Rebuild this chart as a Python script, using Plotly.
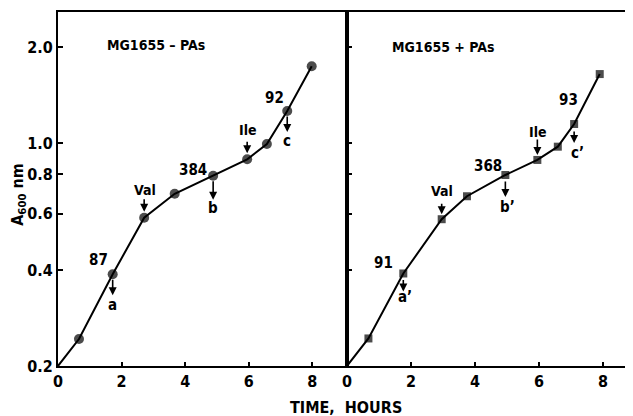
import math
import plotly.graph_objects as go

# ---- data ----
time_minus = [0, 0.66, 1.72, 2.71, 3.67, 4.88, 5.95, 6.57, 7.21, 7.98]
a600_minus = [0.2, 0.243, 0.388, 0.583, 0.693, 0.790, 0.889, 0.993, 1.26, 1.74]
time_plus = [0, 0.67, 1.76, 2.96, 3.75, 4.95, 5.95, 6.59, 7.10, 7.90]
a600_plus = [0.2, 0.244, 0.39, 0.577, 0.681, 0.794, 0.885, 0.974, 1.147, 1.645]

panel_titles = ["MG1655 \u2013 PAs", "MG1655 + PAs"]
rates_minus = ["87", "384", "92"]
rates_plus = ["91", "368", "93"]
letters_minus = ["a", "b", "c"]
letters_plus = ["a\u2019", "b\u2019", "c\u2019"]
additions = ["Val", "Ile"]
y_ticks = [0.2, 0.4, 0.6, 0.8, 1.0, 2.0]
x_ticks = [0, 2, 4, 6, 8]

FONT = "DejaVu Sans Condensed, Liberation Sans Narrow, Arial Narrow, sans-serif"

fig = go.Figure()
fig.add_trace(go.Scatter(
    x=time_minus, y=a600_minus, mode="lines+markers", xaxis="x", yaxis="y",
    line=dict(color="black", width=2),
    marker=dict(symbol="circle", color="black", line=dict(width=0),
                size=[0] + [10] * (len(time_minus) - 1)),
    showlegend=False, hoverinfo="skip"))
fig.add_trace(go.Scatter(
    x=time_plus, y=a600_plus, mode="lines+markers", xaxis="x2", yaxis="y2",
    line=dict(color="black", width=2),
    marker=dict(symbol="square", color="black", line=dict(width=0),
                size=[0] + [8] * (len(time_plus) - 1)),
    showlegend=False, hoverinfo="skip"))

ann = []


def txt(xr, yr, x, y, text, dx=0, dy=0, size=15, xanchor="center"):
    ann.append(dict(xref=xr, yref=yr, x=x, y=math.log10(y), text=text, showarrow=False,
                    xshift=dx, yshift=dy, xanchor=xanchor,
                    font=dict(size=size, family=FONT, color="black", weight="bold")))


def arrow(xr, yr, x, y, tip_shift, length, dx=0):
    ann.append(dict(xref=xr, yref=yr, x=x, y=math.log10(y), text="", showarrow=True,
                    xshift=dx, yshift=tip_shift, ax=0, ay=-length,
                    arrowhead=2, arrowsize=1, arrowwidth=1.6, arrowcolor="black", standoff=0))


def panel(xr, yr, t, a, rates, letters, rate_shift, letter_shift, arrow_below, arrow_above,
          add_shift):
    idx = [2, 5, 8]
    for k, i in enumerate(idx):
        dx, dy = rate_shift[k]
        txt(xr, yr, t[i], a[i], rates[k], dx, dy, size=15)
        tip, ln = arrow_below[k]
        arrow(xr, yr, t[i], a[i], -tip, ln)
        ldx, ldy = letter_shift[k]
        txt(xr, yr, t[i], a[i], letters[k], ldx, -ldy, size=15)
    for k, i in enumerate([3, 6]):
        arrow(xr, yr, t[i], a[i], arrow_above[k][0], arrow_above[k][1])
        txt(xr, yr, t[i], a[i], additions[k], add_shift[k][0], add_shift[k][1], size=14)


panel("x", "y", time_minus, a600_minus, rates_minus, letters_minus,
      rate_shift=[(-14, 14), (-20, 6), (-13, 13)],
      letter_shift=[(0, 31), (0, 32), (0, 30)],
      arrow_below=[(21, 17), (24, 20), (21, 17)],
      arrow_above=[(6, 14), (6, 13)],
      add_shift=[(1, 28), (1, 29)])
panel("x2", "y2", time_plus, a600_plus, rates_plus, letters_plus,
      rate_shift=[(-20, 10), (-17, 9), (-6, 24)],
      letter_shift=[(2, 24), (2, 32), (3, 29)],
      arrow_below=[(18, 13), (22, 17), (19, 13)],
      arrow_above=[(5, 12), (5, 17)],
      add_shift=[(0, 28), (1, 28)])

txt("x", "y", 1.48, 2.03, panel_titles[0], size=14, xanchor="left")
txt("x2", "y2", 1.34, 2.0, panel_titles[1], size=14, xanchor="left")

ann.append(dict(xref="paper", yref="paper", x=0.5, y=-0.116, yanchor="middle",
                xanchor="center", text="TIME,  HOURS", showarrow=False,
                font=dict(size=16, family=FONT, color="black", weight="bold")))
ann.append(dict(xref="paper", yref="paper", x=-0.07, y=0.483, textangle=-90,
                xanchor="center", yanchor="middle",
                text="A<sub>600</sub> nm", showarrow=False,
                font=dict(size=16, family=FONT, color="black", weight="bold")))

yr = [math.log10(0.2), math.log10(0.2) + 354 / 319]
split = 289 / 575

axis_common = dict(showline=True, linecolor="black", linewidth=2, ticks="inside",
                   tickcolor="black", tickwidth=2, showgrid=False, zeroline=False,
                   tickfont=dict(size=16, family=FONT, color="black", weight="bold"))

# page body has an 8px margin: size the figure so the plot area lands where the reference has it
fig.update_layout(
    width=625, height=408,
    margin=dict(l=50, r=0, t=4, b=50),
    paper_bgcolor="white", plot_bgcolor="white",
    font=dict(family=FONT, color="black"),
    annotations=ann,
    xaxis=dict(domain=[0, split], range=[0, 9.09], tickvals=x_ticks, ticklen=4,
               mirror=True, **axis_common),
    xaxis2=dict(domain=[split, 1], range=[0, 8.94], tickvals=x_ticks, ticklen=4,
                mirror=True, anchor="y2", **axis_common),
    yaxis=dict(type="log", range=yr, tickvals=y_ticks,
               ticktext=[f"{v:.1f}" for v in y_ticks], ticklen=5, mirror=True,
               **axis_common),
    yaxis2=dict(type="log", range=yr, tickvals=y_ticks, showticklabels=False,
                ticklen=5, anchor="x2", matches="y", **axis_common),
)

fig.write_html("out.html")
